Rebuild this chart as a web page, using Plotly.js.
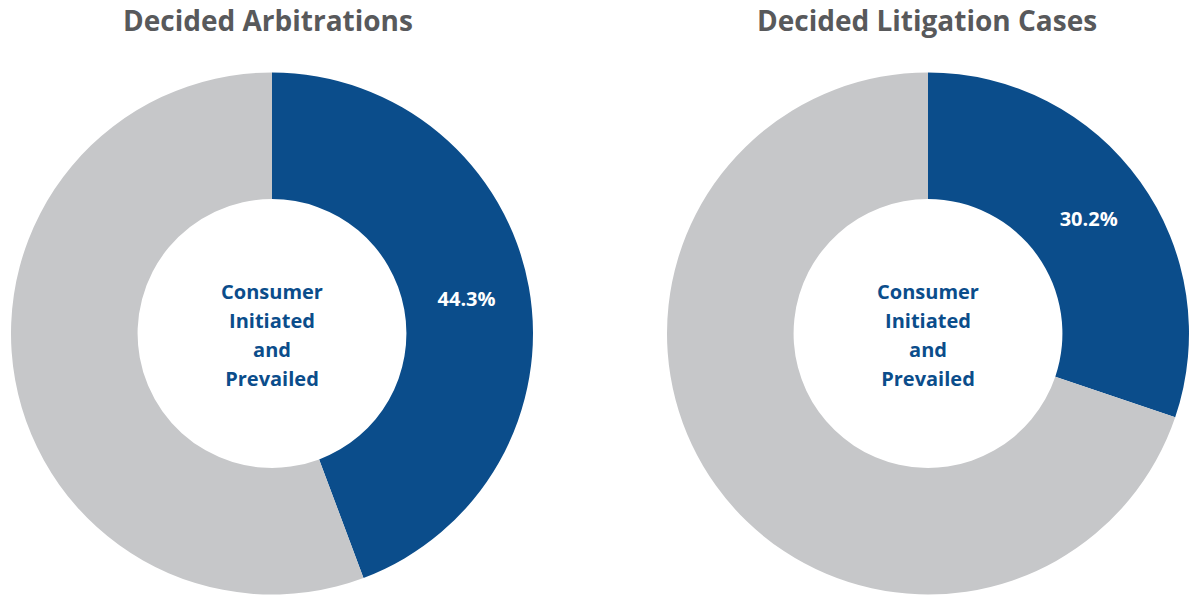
<!DOCTYPE html>
<html><head><meta charset="utf-8">
<script src="https://cdn.plot.ly/plotly-3.0.1.min.js"></script>
<style>html,body{margin:0;padding:0;background:#fff}#chart{width:1193px;height:596px}</style>
</head><body><div id="chart"></div>
<script>
const chartTitles = ["Decided Arbitrations", "Decided Litigation Cases"];
const sliceLabels = ["Consumer Initiated and Prevailed", "Other"];
const arbitrationValues = [44.3, 55.7];
const litigationValues = [30.2, 69.8];
const centerLines = ["Consumer", "Initiated", "and", "Prevailed"];

const W = 1193, H = 596;
const BLUE = "#0B4D8B", GRAY = "#C6C7C9";
const R = 261;
function dom(cx, cy) {
  return {x: [(cx - R) / W, (cx + R) / W], y: [(H - cy - R) / H, (H - cy + R) / H]};
}
const centerText = centerLines.map(s => '<span style="font-size:20px">' + s + '</span>').join("<br>");
function pieTrace(values, domain) {
  return {
    type: "pie", values: values, labels: sliceLabels,
    text: [values[0].toFixed(1) + "%", ""], textinfo: "text",
    textposition: "inside", insidetextorientation: "horizontal",
    insidetextfont: {family: "Open Sans", size: 20, color: "#ffffff", weight: 700},
    hole: 0.515, sort: false, direction: "clockwise", rotation: 0,
    marker: {colors: [BLUE, GRAY], line: {width: 0}},
    domain: domain, showlegend: false, hoverinfo: "label+percent",
    title: {text: centerText, position: "middle center",
      font: {family: "Open Sans", size: 22.3, color: BLUE, weight: 700}}
  };
}
const data = [
  pieTrace(arbitrationValues, dom(272, 333.5)),
  pieTrace(litigationValues, dom(928, 333.5))
];
const layout = {
  width: W, height: H, margin: {l: 0, r: 0, t: 0, b: 0},
  paper_bgcolor: "#fff", showlegend: false,
  annotations: [
    {text: chartTitles[0], x: 268 / W, y: 1 - 20 / H},
    {text: chartTitles[1], x: 927 / W, y: 1 - 20 / H}
  ].map(a => Object.assign(a, {xref: "paper", yref: "paper", xanchor: "center", yanchor: "middle",
    showarrow: false, font: {family: "Open Sans", size: 28, color: "#58595B", weight: 700}}))
};
Plotly.newPlot("chart", data, layout, {displayModeBar: false, staticPlot: true});
</script></body></html>
